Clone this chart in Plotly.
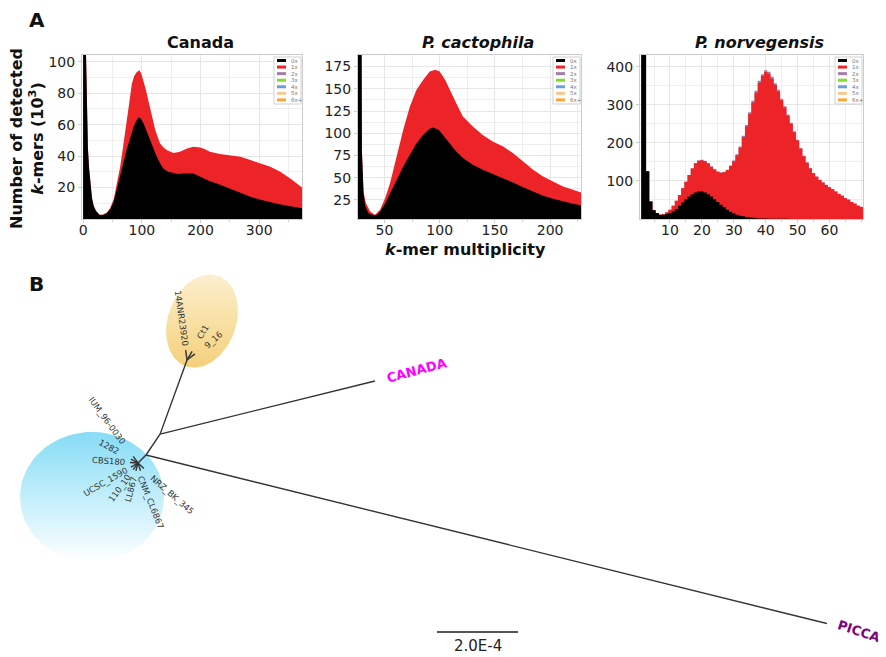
import math
import plotly.graph_objects as go

W, H = 886, 657

# ---------------- Panel A: k-mer spectra (counts in thousands) ----------------
canada_mult_0x = [0, 1, 3, 4.5, 6, 8, 10, 12, 15, 18, 22, 28, 34, 40, 46, 52, 57, 63, 68, 74,
                  80, 86, 90, 94, 98, 103, 108, 114, 120, 125, 131, 137, 145, 154, 162, 171, 180, 188, 196, 205,
                  216, 228, 242, 256, 270, 285, 299, 313, 327, 341, 355, 373]
canada_0x = [600, 600, 400, 110, 70, 45, 32, 22, 13, 8, 5, 2.5, 2.5, 3.6, 6, 11, 18, 27, 35, 44,
             52, 58.6, 62, 64.5, 64, 60.7, 56, 50, 45, 40, 35.5, 32, 30, 29, 28.6, 29, 29.2, 29, 27.5, 25.8,
             24, 22.6, 20.5, 18.4, 16.3, 14.2, 12.5, 11, 10, 8.9, 7.8, 6.8]
canada_mult_tot = [0, 1, 3, 4.5, 6, 8, 10, 12, 15, 18, 22, 28, 34, 40, 46, 52, 57, 63, 68, 74,
                   79, 83, 87, 91.5, 96, 99, 103, 107, 111, 117, 123, 131, 137, 143, 154, 165, 177, 188, 199, 207,
                   216, 233, 250, 268, 285, 302, 319, 336, 353, 373]
canada_tot = [600, 600, 400, 112, 72, 46, 33, 23, 13.5, 8.5, 5.2, 2.7, 2.8, 4, 7, 12.5, 21, 33, 46, 60.7,
              75, 86, 91, 93.5, 94.6, 92.5, 88, 82, 75.5, 65, 56.5, 48, 45.5, 43.8, 42, 42.8, 44.9, 46, 45.5, 44.5,
              42.8, 41.3, 40.6, 39.6, 37.5, 35.3, 33.2, 30, 25.8, 20]

cacto_mult_0x = [26, 28, 29.5, 31, 32.5, 35.5, 38, 41.5, 44, 46, 50.6, 55, 61, 67, 73, 79, 85, 91, 94, 99,
                 103, 109, 115, 121, 130, 139, 148, 157.5, 166.5, 175.6, 184.6, 193.7, 202.7, 211.7, 220.8, 229]
cacto_0x = [800, 800, 80, 33, 18, 10, 8.5, 7.5, 9, 12, 21, 32.6, 47.6, 62.5, 75.7, 88.8, 98, 105, 106.4, 103.8,
            98, 88.8, 79.4, 72, 64.5, 58.8, 54.3, 49.4, 44.5, 39.3, 34.5, 29.6, 26.2, 23.2, 20.6, 18.6]
cacto_mult_tot = [26, 28, 29.5, 31, 33, 37, 41.5, 46, 50.6, 55, 61, 67, 73, 79, 85, 91, 96, 100, 105, 109,
                  115, 121, 130, 139, 148, 157.5, 166.5, 175.6, 184.6, 193.7, 202.7, 211.7, 220.8, 229]
cacto_tot = [800, 800, 82, 34, 22, 12, 8.2, 13.8, 27, 43.8, 73.8, 103.8, 130, 148.8, 160, 169.4, 171.3, 169.4, 160, 148.8,
             133.8, 118.8, 107.5, 98, 90.7, 85, 77.5, 68.2, 58.8, 51.3, 45.7, 40, 36.3, 33]

norv_mult = list(range(1, 72))
norv_0x = [2000, 600, 125.7, 46, 22.7, 15.8, 11.4, 11.4, 13, 16,
           20, 26, 35, 43.5, 52, 59, 65, 69.5, 72, 72,
           69.5, 65, 59, 52, 44.4, 37.5, 31.4, 24.5, 19.3, 15,
           11.4, 8.8, 7, 5.4, 4, 3, 2.2, 1.6, 1.2, 1,
           0.8, 0.7, 0.6, 0.5, 0.5, 0.4, 0.4, 0.3, 0.3, 0.3,
           0.3, 0.2, 0.2, 0.2, 0.2, 0.2, 0.2, 0.1, 0.1, 0.1,
           0.1, 0.1, 0.1, 0.1, 0.1, 0.1, 0.1, 0.1, 0.1, 0.1, 0.1]
norv_tot = [2000, 600, 125.7, 46, 22.7, 15.8, 11.4, 13, 17.5, 24.5,
            35, 48, 63.4, 80.7, 98, 115.5, 132.7, 145.9, 152.8, 154.6,
            152, 146, 137, 130, 124, 121.4, 123, 128.5, 139, 152,
            167.5, 187.5, 215, 243, 276, 306, 332, 358, 375.5, 386,
            382, 368.6, 352, 335, 312, 293, 271.5, 250, 228, 206.5,
            184.7, 165, 147.5, 133, 120, 111, 102.6, 95.6, 89.6, 83.4,
            78.2, 72, 66, 61, 54.8, 50.5, 44.4, 40, 35, 31.4, 29]
norv_2x = [0, 0, 0, 0, 0, 0, 0, 0, 0, 0,
           0, 0, 0, 0, 0, 0, 0.5, 1, 1, 1,
           1, 1, 1, 1, 1, 1, 1, 1, 1.5, 2,
           2.5, 3, 3.5, 4, 4.5, 5, 5, 5, 5, 5,
           5, 5, 4.5, 4.5, 4, 3.5, 3, 3, 2.5, 2,
           2, 1.5, 1.5, 1, 1, 1, 0.5, 0.5, 0.5, 0.5,
           0.5, 0.5, 0.5, 0.5, 0.5, 0.5, 0.5, 0.5, 0.5, 0.5, 0.5]

legend_labels = ["0x", "1x", "2x", "3x", "4x", "5x", "6x+"]
legend_colors = ["#000000", "#ec2327", "#a57ca9", "#80dd2c", "#6c9fd6", "#f7c98f", "#f9a634"]

# ---------------- Panel B: unrooted tree (branch lengths, subst./site) ----------------
tree_child = ["n1", "n2", "n3", "CANADA", "PICCA",
              "IUM_96-0030", "1282", "CBS180", "UCSC_1590", "110_10", "LL867", "CNM_CL6867", "NRZ_BK_345",
              "14ANR23920", "Ct1", "9_16"]
tree_parent = ["n0", "n1", "n2", "n2", "n1",
               "n0", "n0", "n0", "n0", "n0", "n0", "n0", "n0",
               "n3", "n3", "n3"]
tree_length = [2.79e-5, 6.22e-5, 1.946e-4, 5.466e-4, 1.732e-3,
               2.0e-5, 2.0e-5, 2.0e-5, 2.0e-5, 2.0e-5, 2.0e-5, 2.0e-5, 2.0e-5,
               2.5e-5, 2.5e-5, 2.5e-5]
scale_bar = 2.0e-4

# ---------------- layout / styling ----------------
RED = legend_colors[1]
FONT = "DejaVu Sans"
u = scale_bar / 81.0  # tree units per pixel

branch_angle = {"n1": 45, "n2": 56, "n3": 70, "CANADA": 13.9, "PICCA": -13.9,
                "IUM_96-0030": 126, "1282": 151, "CBS180": 176, "UCSC_1590": 210, "110_10": 234,
                "LL867": 255, "CNM_CL6867": -72, "NRZ_BK_345": -43,
                "14ANR23920": 98, "Ct1": 60, "9_16": 38}
# label: (distance from parent node in px, text angle)
label_style = {"CANADA": (264, -15), "PICCA": (735, 18),
               "IUM_96-0030": (52, 54), "1282": (33, 29), "CBS180": (30, 4), "UCSC_1590": (38, -30),
               "110_10": (31, -54), "LL867": (27, -75), "CNM_CL6867": (41, 68), "NRZ_BK_345": (47, 41),
               "14ANR23920": (42, 82), "Ct1": (32, -60), "9_16": (33, -42)}

fig = go.Figure()
shapes, annos = [], []


def pann(xpx, ypx, text, size, color="#111", **kw):
    d = dict(x=xpx / W, y=1 - ypx / H, xref="paper", yref="paper", text=text,
             xanchor="center", yanchor="middle", showarrow=False,
             font=dict(family=FONT, size=size, color=color))
    d.update(kw)
    annos.append(d)


panels = [
    dict(k="", xd=(82, 302), xr=[-2, 373], xt=[0, 100, 200, 300], xm=50,
         yr=[0, 104.3], yt=[20, 40, 60, 80, 100], ym=10,
         title="<b>Canada</b>"),
    dict(k="2", xd=(358, 581), xr=[26, 228], xt=[50, 100, 150, 200], xm=25,
         yr=[3.5, 188], yt=[25, 50, 75, 100, 125, 150, 175], ym=12.5,
         title="<b><i>P. cactophila</i></b>"),
    dict(k="3", xd=(640, 863), xr=[0.6, 70.5], xt=[10, 20, 30, 40, 50, 60], xm=5,
         yr=[0, 431], yt=[100, 200, 300, 400], ym=50,
         title="<b><i>P. norvegensis</i></b>"),
]
PT, PB = 55, 219

layout_axes = {}
common = dict(showline=True, mirror=True, linecolor="#cccccc", linewidth=1,
              showgrid=True, gridcolor="#e6e6e6", zeroline=False,
              ticks="outside", ticklen=3, tickcolor="#cccccc",
              tickfont=dict(family=FONT, size=14, color="#222222"), automargin=False)
for p in panels:
    k = p["k"]
    layout_axes["xaxis" + k] = dict(domain=[p["xd"][0] / W, p["xd"][1] / W], range=p["xr"],
                                    tickvals=p["xt"], anchor="y" + k, ticklabelstandoff=-5,
                                    minor=dict(dtick=p["xm"], tick0=0, showgrid=True, gridcolor="#eeeeee",
                                               ticks="outside", ticklen=2, tickcolor="#cccccc"),
                                    **common)
    layout_axes["yaxis" + k] = dict(domain=[1 - PB / H, 1 - PT / H], range=p["yr"],
                                    tickvals=p["yt"], anchor="x" + k,
                                    minor=dict(dtick=p["ym"], tick0=0, showgrid=True, gridcolor="#eeeeee"),
                                    **common)
    cx = (p["xd"][0] + p["xd"][1]) / 2 + 8
    pann(cx, 42, p["title"], 16)
    # mini legend
    xr = p["xd"][1]
    shapes.append(dict(type="rect", xref="paper", yref="paper",
                       x0=(xr - 28) / W, x1=(xr - 1) / W, y0=1 - (PT + 49) / H, y1=1 - (PT + 2) / H,
                       line=dict(color="#d0d0d0", width=1), fillcolor="white"))
    for i, (lab, col) in enumerate(zip(legend_labels, legend_colors)):
        yc = PT + 5.5 + i * 6.57
        shapes.append(dict(type="rect", xref="paper", yref="paper",
                           x0=(xr - 25) / W, x1=(xr - 16) / W, y0=1 - (yc + 1.5) / H, y1=1 - (yc - 1.5) / H,
                           line=dict(width=0), fillcolor=col))
        pann(xr - 13, yc, lab, 5.5, "#777", xanchor="left")


def area(x, y, color, k, shape="linear"):
    return go.Scatter(x=x, y=y, mode="lines", line=dict(width=0, color=color, shape=shape),
                      fill="tozeroy", fillcolor=color, xaxis="x" + k, yaxis="y" + k,
                      showlegend=False, hoverinfo="skip")


fig.add_trace(area(canada_mult_tot, canada_tot, RED, ""))
fig.add_trace(area(canada_mult_0x, canada_0x, "#000000", ""))
fig.add_trace(area(cacto_mult_tot, cacto_tot, RED, "2"))
fig.add_trace(area(cacto_mult_0x, cacto_0x, "#000000", "2"))
norv_top2 = [a + b for a, b in zip(norv_tot, norv_2x)]
fig.add_trace(area(norv_mult, norv_top2, legend_colors[2], "3", "hvh"))
fig.add_trace(area(norv_mult, norv_tot, RED, "3", "hvh"))
fig.add_trace(area(norv_mult, norv_0x, "#000000", "3", "hvh"))

# axis titles and panel letters
pann(27, 139, "<b>Number of detected<br><i>k</i>-mers (10<sup>3</sup>)</b>", 16, textangle=-90)
pann(466, 249, "<b><i>k</i>-mer multiplicity</b>", 16)
pann(37, 20, "<b>A</b>", 20)
pann(36, 284, "<b>B</b>", 20)

# ---------------- tree ----------------
ROOT_PX = (138, 463)
TREE_TOP = 0.6


def tx(px):
    return (px - ROOT_PX[0]) * u


def ty(py):
    return (ROOT_PX[1] - py) * u


def ellipse(cx, cy, rx, ry, tilt_deg, n=120):
    t = math.radians(tilt_deg)
    xs, ys = [], []
    for i in range(n + 1):
        a = 2 * math.pi * i / n
        ex, ey = rx * math.cos(a), ry * math.sin(a)
        xs.append(tx(cx) + (ex * math.cos(t) - ey * math.sin(t)) * u)
        ys.append(ty(cy) + (ex * math.sin(t) + ey * math.cos(t)) * u)
    return xs, ys


bx, by = ellipse(92, 497, 72, 65, 0)
fig.add_trace(go.Scatter(x=bx, y=by, mode="lines", line=dict(width=0), fill="toself",
                         fillgradient=dict(type="vertical",
                                           colorscale=[[0, "#ffffff"], [0.45, "#c8f0fb"], [1, "#86dcf5"]]),
                         xaxis="x4", yaxis="y4", showlegend=False, hoverinfo="skip"))
yx, yy = ellipse(202, 321, 48, 34, 70)
fig.add_trace(go.Scatter(x=yx, y=yy, mode="lines", line=dict(width=0), fill="toself",
                         fillgradient=dict(type="vertical",
                                           colorscale=[[0, "#f4d07c"], [0.5, "#f8e0a4"], [1, "#fcefcf"]]),
                         xaxis="x4", yaxis="y4", showlegend=False, hoverinfo="skip"))

pos = {"n0": (0.0, 0.0)}
lx, ly = [], []
for c, par, L in zip(tree_child, tree_parent, tree_length):
    a = math.radians(branch_angle[c])
    px0, py0 = pos[par]
    pos[c] = (px0 + L * math.cos(a), py0 + L * math.sin(a))
    lx += [px0, pos[c][0], None]
    ly += [py0, pos[c][1], None]
fig.add_trace(go.Scatter(x=lx, y=ly, mode="lines", line=dict(color="#333333", width=1.4),
                         xaxis="x4", yaxis="y4", showlegend=False, hoverinfo="skip"))

for c, par in zip(tree_child, tree_parent):
    if c not in label_style:
        continue
    d, ang = label_style[c]
    a = math.radians(branch_angle[c])
    px0, py0 = pos[par]
    x = px0 + d * u * math.cos(a)
    y = py0 + d * u * math.sin(a)
    if c == "CANADA":
        font = dict(family=FONT, size=13, color="#ff00ff")
        txt = "<b>CANADA</b>"
    elif c == "PICCA":
        font = dict(family=FONT, size=13, color="#7f007f")
        txt = "<b>PICCA</b>"
    else:
        font = dict(family=FONT, size=8.5, color="#333333")
        txt = c
    annos.append(dict(x=x, y=y, xref="x4", yref="y4", text=txt, textangle=ang,
                      xanchor="center", yanchor="middle", showarrow=False, font=font))

# scale bar
sb_x0, sb_y = tx(437), ty(632)
fig.add_trace(go.Scatter(x=[sb_x0, sb_x0 + scale_bar], y=[sb_y, sb_y], mode="lines",
                         line=dict(color="#555555", width=2), xaxis="x4", yaxis="y4",
                         showlegend=False, hoverinfo="skip"))
annos.append(dict(x=sb_x0 + scale_bar / 2, y=sb_y - 14 * u, xref="x4", yref="y4",
                  xanchor="center", yanchor="middle",
                  text="2.0E-4", showarrow=False, font=dict(family=FONT, size=15, color="#222")))

layout_axes["xaxis4"] = dict(domain=[0, 1], range=[tx(0), tx(W)], visible=False, anchor="y4",
                             automargin=False)
layout_axes["yaxis4"] = dict(domain=[0, TREE_TOP], range=[ty(H), ty(H * (1 - TREE_TOP))],
                             visible=False, anchor="x4", automargin=False)

fig.update_layout(template="none", width=W, height=H, margin=dict(l=0, r=0, t=0, b=0),
                  paper_bgcolor="white", plot_bgcolor="white", showlegend=False,
                  font=dict(family=FONT), shapes=shapes, annotations=annos, **layout_axes)

fig.write_html("out.html", config={"displayModeBar": False},
               post_script="document.body.style.margin='0';")
